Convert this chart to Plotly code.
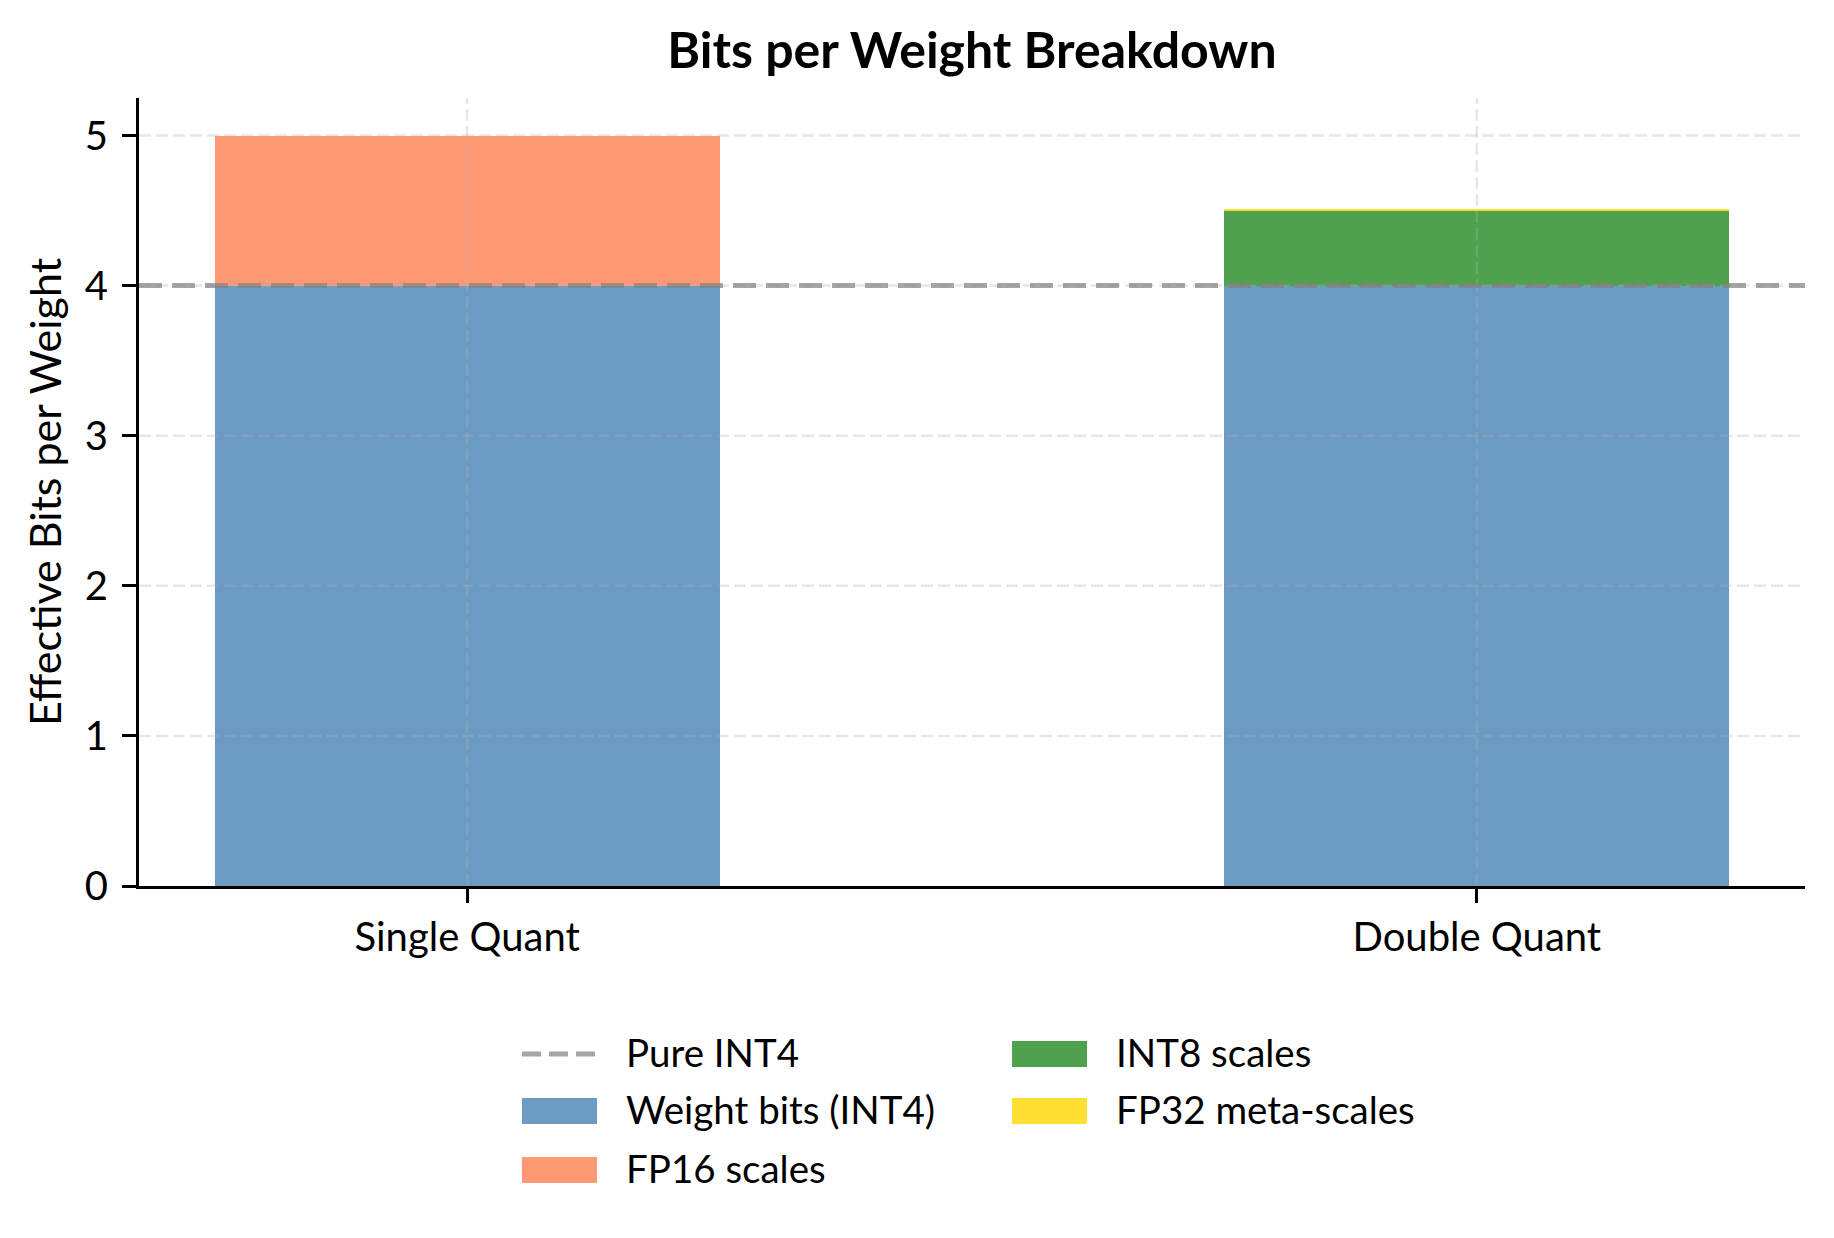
import plotly.graph_objects as go

# ---------------- data ----------------
categories = ["Single Quant", "Double Quant"]
weight_bits = [4.0, 4.0]          # Weight bits (INT4)
fp16_scales = [1.0, 0.0]          # FP16 scales
int8_scales = [0.0, 0.5]          # INT8 scales
fp32_meta_scales = [0.0, 0.0078125]  # FP32 meta-scales
pure_int4 = 4.0
y_ticks = [0, 1, 2, 3, 4, 5]

series_names = ["Weight bits (INT4)", "FP16 scales", "INT8 scales", "FP32 meta-scales"]
series_values = [weight_bits, fp16_scales, int8_scales, fp32_meta_scales]
series_colors = ["#6b9bc3", "#ff9973", "#4ea24e", "#ffdf33"]

# ---------------- layout geometry (pixels) ----------------
W, H = 1834, 1238
L, R, T, B = 139, 29, 98, 352
PW, PH = W - L - R, H - T - B
FONT = "Lato, 'Source Sans Pro', sans-serif"


def px_x(px):
    return (px - L) / PW


def px_y(py):
    return (H - B - py) / PH


fig = go.Figure()
for name, vals, col in zip(series_names, series_values, series_colors):
    fig.add_trace(go.Bar(
        x=categories, y=vals, name=name, width=0.5,
        marker=dict(color=col, line=dict(width=0)),
        showlegend=False,
    ))

shapes = []
grid_color = "rgba(176,176,176,0.3)"
for v in y_ticks[1:]:
    shapes.append(dict(type="line", xref="paper", yref="y", x0=0, x1=1, y0=v, y1=v,
                       line=dict(color=grid_color, width=2.5, dash="12px,5px"), layer="above"))
for i in range(len(categories)):
    shapes.append(dict(type="line", xref="x", yref="paper", x0=i, x1=i, y0=0, y1=1,
                       line=dict(color=grid_color, width=2.5, dash="12px,5px"), layer="above"))
# reference line
shapes.append(dict(type="line", xref="paper", yref="y", x0=0, x1=1, y0=pure_int4, y1=pure_int4,
                   line=dict(color="rgba(128,128,128,0.7)", width=5, dash="23px,10px"), layer="above"))

# ---------------- manual legend (two columns) ----------------
legend_entries = [("Pure INT4", None), (series_names[0], series_colors[0]), (series_names[1], series_colors[1]),
                  (series_names[2], series_colors[2]), (series_names[3], series_colors[3])]
col_sym_x = [522, 1012]
row_y = [1054, 1111, 1170]
sym_w, sym_h = 75, 26
annotations = []
for idx, (label, col) in enumerate(legend_entries):
    c = 0 if idx < 3 else 1
    r = idx if idx < 3 else idx - 3
    x0 = col_sym_x[c]
    yc = row_y[r]
    if col is None:
        shapes.append(dict(type="line", xref="paper", yref="paper",
                           x0=px_x(x0), x1=px_x(x0 + sym_w), y0=px_y(yc), y1=px_y(yc),
                           line=dict(color="rgba(128,128,128,0.7)", width=5, dash="19px,8px")))
    else:
        shapes.append(dict(type="rect", xref="paper", yref="paper",
                           x0=px_x(x0), x1=px_x(x0 + sym_w), y0=px_y(yc - sym_h / 2), y1=px_y(yc + sym_h / 2),
                           fillcolor=col, line=dict(width=0)))
    annotations.append(dict(text=label, xref="paper", yref="paper", x=px_x(x0 + sym_w + 27), y=px_y(yc - 2),
                            xanchor="left", yanchor="middle", showarrow=False,
                            font=dict(family=FONT, size=38.5, color="black")))

fig.update_layout(
    width=W, height=H,
    margin=dict(l=L, r=R, t=T, b=B, pad=0),
    paper_bgcolor="white", plot_bgcolor="white",
    barmode="stack", bargap=0,
    title=dict(text="<b>Bits per Weight Breakdown</b>", x=(L + PW / 2) / W, xanchor="center",
               y=1 - 50 / H, yanchor="middle",
               font=dict(family=FONT, size=50, color="black")),
    font=dict(family=FONT, size=38, color="black"),
    shapes=shapes, annotations=annotations,
    showlegend=False,
)
fig.update_xaxes(
    type="category", range=[-0.325, 1.325],
    showgrid=False, zeroline=False,
    showline=True, linecolor="black", linewidth=3,
    ticks="outside", ticklen=14, tickwidth=3, tickcolor="black",
    tickfont=dict(family=FONT, size=40, color="black"),
    ticklabelstandoff=0,
)
fig.update_yaxes(
    range=[0, 5.25], tickvals=y_ticks,
    showgrid=False, zeroline=False,
    showline=True, linecolor="black", linewidth=3,
    ticks="outside", ticklen=14, tickwidth=3, tickcolor="black",
    tickfont=dict(family=FONT, size=40, color="black"),
    ticklabelstandoff=6,
    title=dict(text="Effective Bits per Weight", font=dict(family=FONT, size=43, color="black"), standoff=10),
)

fig.write_html("out.html")
